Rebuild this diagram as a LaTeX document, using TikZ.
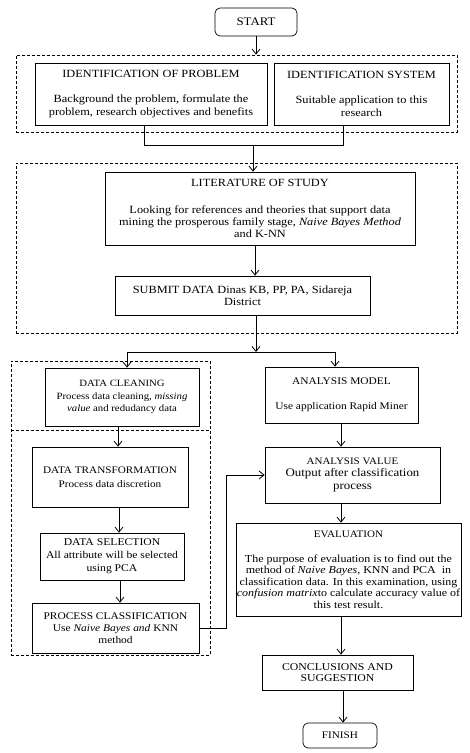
\documentclass[tikz,border=0pt]{standalone}
\usepackage{fontspec}
\setmainfont[FakeStretch=1.12]{Liberation Serif}
\usetikzlibrary{arrows.meta}
\begin{document}
\begin{tikzpicture}[x=1pt,y=-1pt,
  box/.style={draw, line width=0.7pt, inner sep=0pt, align=center},
  grp/.style={draw, line width=0.7pt, dash pattern=on 3pt off 2pt, inner sep=0pt},
  conn/.style={line width=0.8pt},
  arr/.style={conn, -{Straight Barb[length=5pt,width=8pt,line width=0.8pt]}},
]
\useasboundingbox (0,0) rectangle (470,753);
% groups
\node[grp, minimum width=441pt, minimum height=77pt] (grp1) at (236.5,93.5) {};
\node[grp, minimum width=441pt, minimum height=170pt] (grp2) at (236.5,248) {};
\node[grp, minimum width=199pt, minimum height=294pt] (grp3) at (110.5,508) {};
\coordinate (d1) at (0,430);
\draw[grp] (grp3.west |- d1) -- (grp3.east |- d1);
% boxes
\node[box, rounded corners=5pt, minimum width=82pt, minimum height=28pt, font=\fontsize{11.5}{13}\selectfont] (start) at (256,22) {START};
\node[box, minimum width=232pt, minimum height=62pt, font=\fontsize{11}{13}\selectfont] (prob) at (151,94)
  {IDENTIFICATION OF PROBLEM\\[12pt]Background the problem, formulate the\\problem, research objectives and benefits};
\node[box, minimum width=175pt, minimum height=62pt, font=\fontsize{11}{13}\selectfont] (sys) at (361.5,94)
  {IDENTIFICATION SYSTEM\\[12pt]Suitable application to this\\research};
\node[box, minimum width=310pt, minimum height=73pt, font=\fontsize{11}{12}\selectfont] (lit) at (260,208.5)
  {LITERATURE OF STUDY\\[15pt]Looking for references and theories that support data\\mining the prosperous family stage, \textit{Naive Bayes Method}\\and K-NN};
\node[box, minimum width=255pt, minimum height=39pt, font=\fontsize{11}{12}\selectfont] (sub) at (242.5,295.5)
  {SUBMIT DATA Dinas KB, PP, PA, Sidareja\\District};
\node[box, minimum width=154pt, minimum height=58pt, font=\fontsize{9.6}{12.5}\selectfont] (clean) at (122,397)
  {DATA CLEANING\\Process data cleaning, \textit{missing}\\\textit{value} and redudancy data};
\node[box, minimum width=156pt, minimum height=60pt, font=\fontsize{10}{14}\selectfont] (trans) at (110,477)
  {DATA TRANSFORMATION\\Process data discretion};
\node[box, minimum width=144pt, minimum height=47pt, font=\fontsize{10.4}{13}\selectfont] (sel) at (112,556.5)
  {DATA SELECTION\\All attribute will be selected\\using PCA};
\node[box, minimum width=167pt, minimum height=50pt, font=\fontsize{10.2}{12}\selectfont] (proc) at (115.5,628)
  {PROCESS CLASSIFICATION\\Use \textit{Naive Bayes and} KNN\\method};
\node[box, minimum width=153pt, minimum height=56pt, font=\fontsize{10.2}{13}\selectfont] (model) at (341.5,395)
  {ANALYSIS MODEL\\[12pt]Use application Rapid Miner};
\node[box, minimum width=175pt, minimum height=56pt, font=\fontsize{11.5}{13}\selectfont] (value) at (352.5,475)
  {{\fontsize{9.8}{12}\selectfont ANALYSIS VALUE}\\[-1pt]Output after classification\\process};
\node[box, minimum width=225pt, minimum height=93pt, font=\fontsize{10.7}{11.5}\selectfont] (eval) at (348.5,569.5)
  {{\fontsize{9.9}{11.5}\selectfont EVALUATION}\\[13.5pt]The purpose of evaluation is to find out the\\method of \textit{Naive Bayes}, KNN and PCA\ \ in\\classification data. In this examination, using\\\textit{confusion matrix}to calculate accuracy value of\\this test result.};
\node[box, minimum width=151pt, minimum height=35pt, font=\fontsize{10.5}{11.5}\selectfont] (concl) at (337.5,672.5)
  {CONCLUSIONS AND\\SUGGESTION};
\node[box, rounded corners=5pt, minimum width=74pt, minimum height=25pt, font=\fontsize{10}{12}\selectfont] (finish) at (340,735.5) {FINISH};
% connectors
\draw[arr] (start.south) -- (start.south |- grp1.north);
\coordinate (pL) at (144,145);
\coordinate (pR) at (343,145);
\coordinate (j1) at (253,145);
\draw[conn] (prob.south -| pL) -- (pL) -- (pR) -- (sys.south -| pR);
\draw[arr] (j1) -- (j1 |- lit.north);
\coordinate (v0) at (255,0);
\draw[arr] (lit.south -| v0) -- (sub.north -| v0);
\coordinate (j2) at (256,352);
\coordinate (sL) at (127,352);
\coordinate (sR) at (335,352);
\draw[arr] (sub.south -| j2) -- (j2);
\draw[conn] (sL) -- (sR);
\draw[arr] (sL) -- (clean.north -| sL);
\draw[arr] (sR) -- (model.north -| sR);
\coordinate (v1) at (118,0);
\coordinate (v2) at (119,0);
\coordinate (v3) at (120,0);
\draw[arr] (clean.south -| v1) -- (trans.north -| v1);
\draw[arr] (trans.south -| v2) -- (sel.north -| v2);
\draw[arr] (sel.south -| v3) -- (proc.north -| v3);
\coordinate (bend) at (226,0);
\draw[arr] (proc.east) -| (bend |- value.west) -- (value.west);
\coordinate (v4) at (341,0);
\coordinate (v5) at (343,0);
\draw[arr] (model.south -| v4) -- (value.north -| v4);
\draw[arr] (value.south -| v4) -- (eval.north -| v4);
\draw[arr] (eval.south -| v4) -- (concl.north -| v4);
\draw[arr] (concl.south -| v5) -- (finish.north -| v5);
\end{tikzpicture}
\end{document}
